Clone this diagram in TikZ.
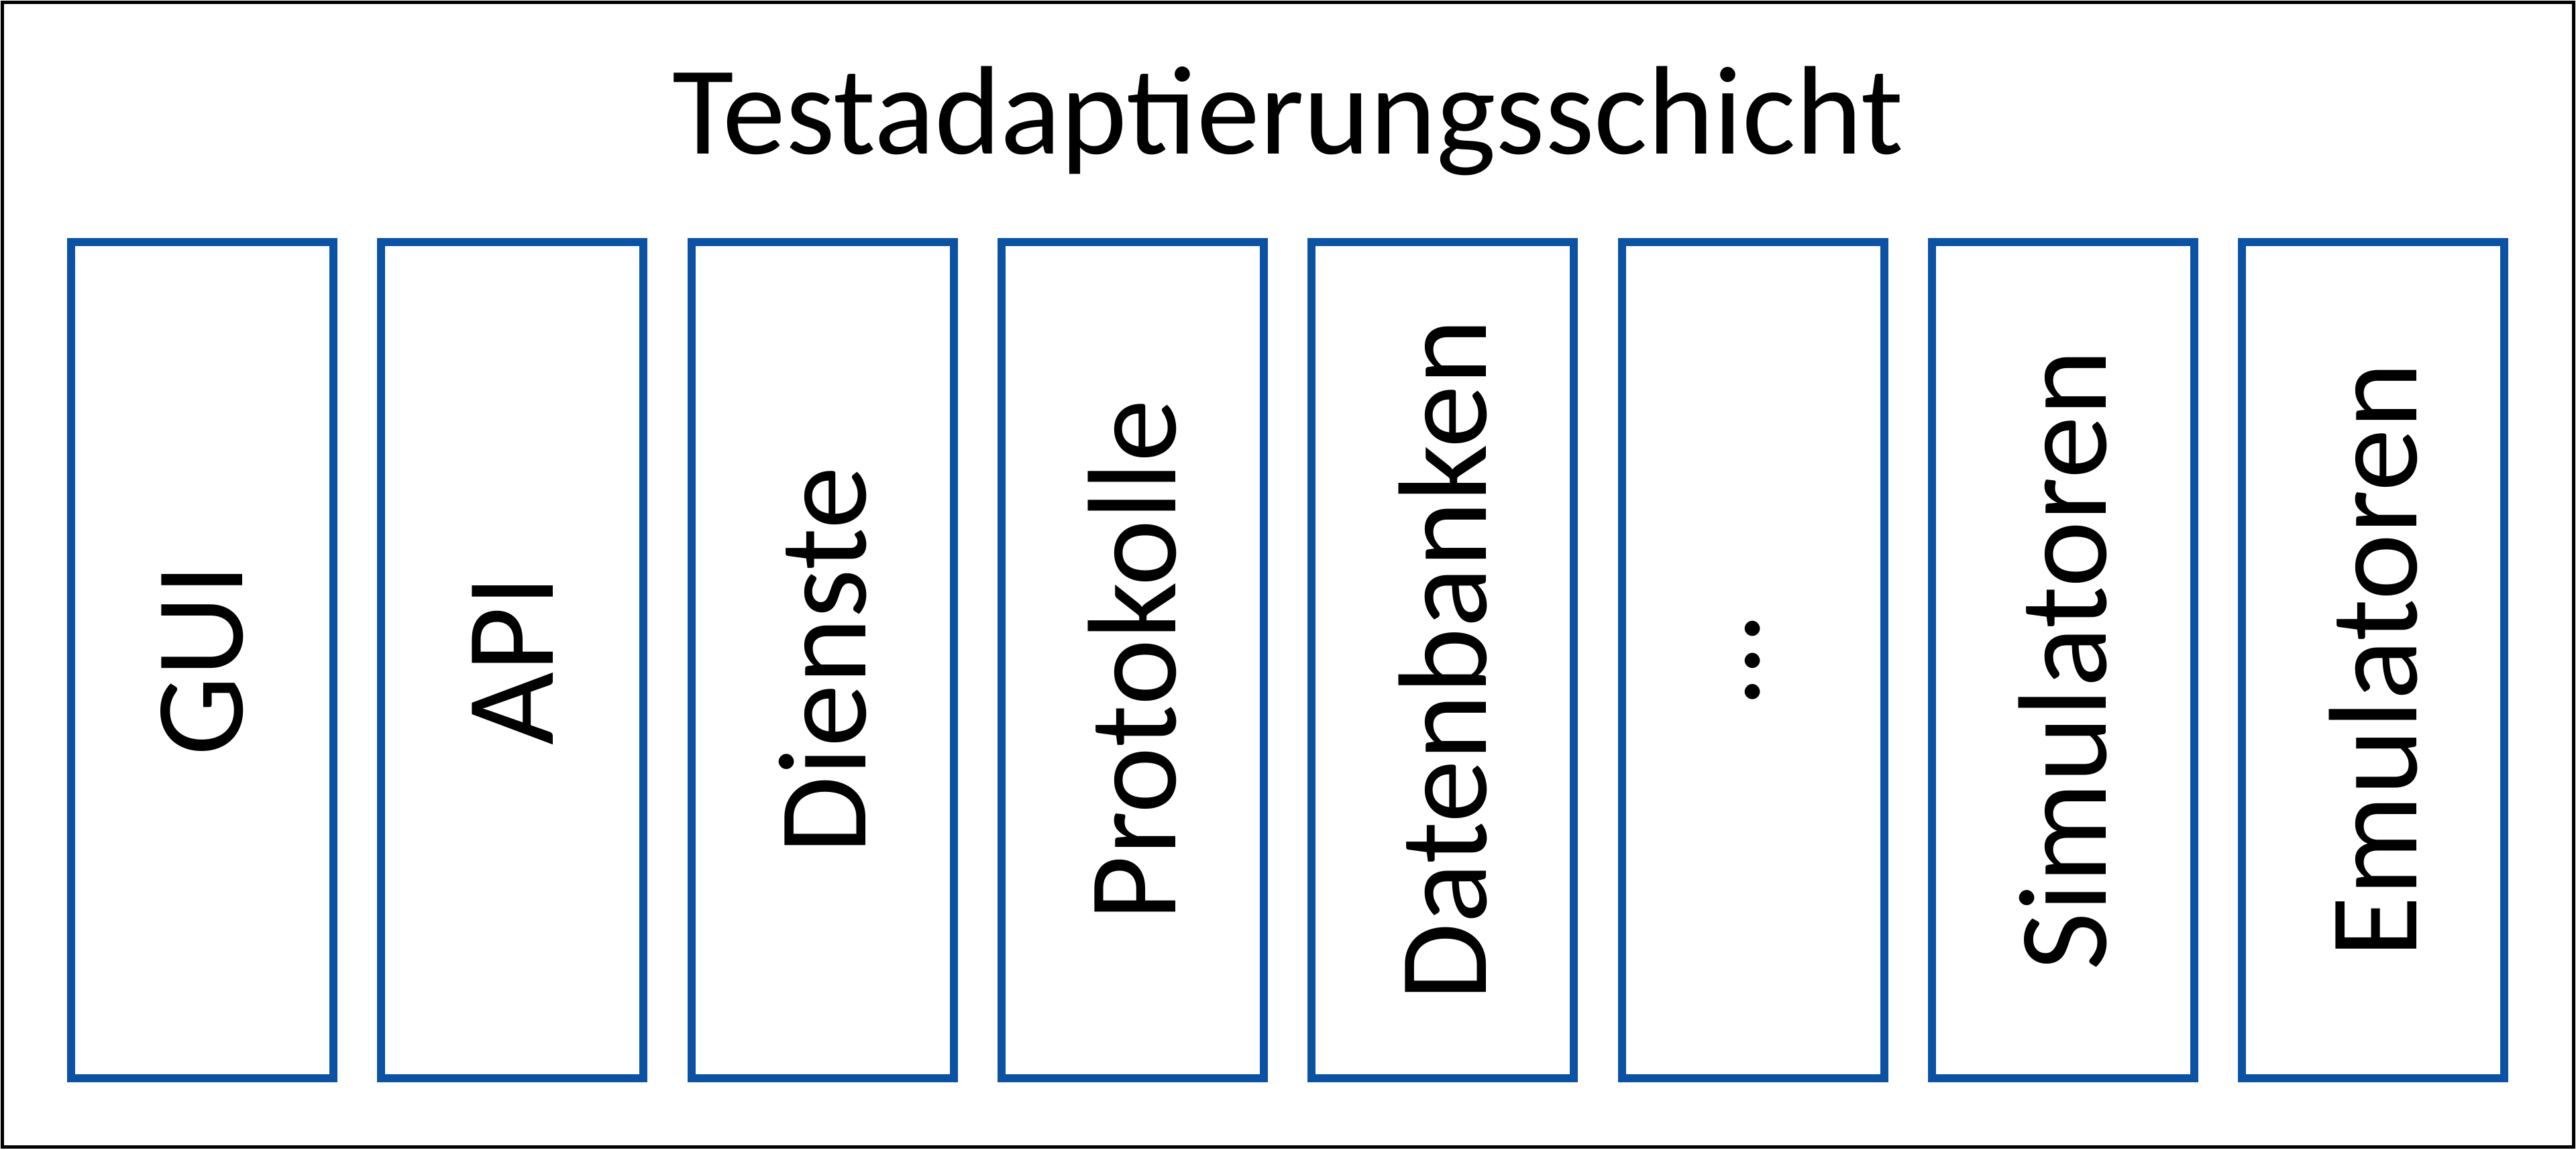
\documentclass[tikz,border=0pt]{standalone}
\usepackage{fontspec}
\setmainfont{Carlito}
\definecolor{boxblue}{RGB}{12,82,164}
\begin{document}
\begin{tikzpicture}[x=1pt,y=1pt,
  layerbox/.style={draw=black,line width=0.5pt,inner sep=0pt,outer sep=0pt},
  compbox/.style={draw=boxblue,line width=1.2pt,minimum width=39.1pt,minimum height=124.7pt,inner sep=0pt,outer sep=0pt},
  lbl/.style={font=\fontsize{18.8pt}{22pt}\selectfont,text=black}]
\useasboundingbox (0,0) rectangle (384,171.5);
\node[layerbox, minimum width=383.2pt, minimum height=170.7pt, anchor=south west] (frame) at (0.4,0.4) {};
\node[lbl, anchor=base, inner sep=0pt] (title) at (192,148.5) {Testadaptierungsschicht};
\foreach \i/\t in {0/GUI,1/API,2/Dienste,3/Protokolle,4/Datenbanken,5/…,6/Simulatoren,7/Emulatoren}
  \node[compbox, lbl] (b\i) at ({30.15+46.23*\i}, 73.05) {\rotatebox{90}{\t}};
\end{tikzpicture}
\end{document}
